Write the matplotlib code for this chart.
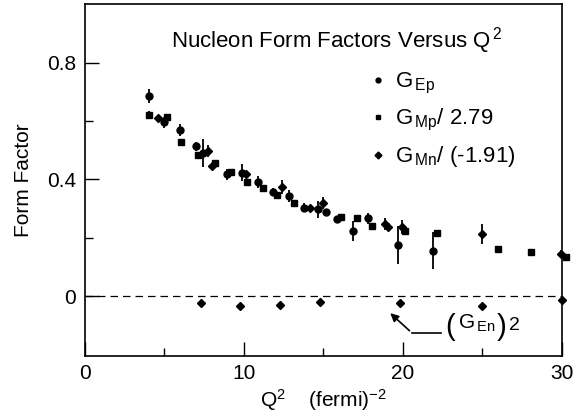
import numpy as np
import matplotlib
matplotlib.use("Agg")
import matplotlib.pyplot as plt
from matplotlib.lines import Line2D

plt.rcParams['font.family'] = ['Liberation Sans', 'DejaVu Sans']
plt.rcParams['mathtext.fontset'] = 'custom'
plt.rcParams['mathtext.rm'] = 'Liberation Sans'
plt.rcParams['mathtext.it'] = 'Liberation Sans:italic'

# G_Ep (circles)
gep_q2 = [4.05, 5.0, 6.0, 6.98, 7.46, 8.93, 9.91, 10.92, 11.86, 12.87, 13.81,
          14.65, 15.17, 15.88, 16.85, 17.83, 19.67, 21.87]
gep_val = [0.686, 0.595, 0.570, 0.513, 0.491, 0.417, 0.423, 0.392, 0.358, 0.343,
           0.303, 0.298, 0.289, 0.264, 0.224, 0.266, 0.175, 0.156]
gep_err = [0.023, 0.02, 0.02, 0.015, 0.048, 0.02, 0.03, 0.02, 0.012, 0.022,
           0.015, 0.029, 0.01, 0.01, 0.034, 0.018, 0.065, 0.063]

# G_Mp / 2.79 (squares)
gmp_q2 = [4.05, 5.2, 6.06, 7.15, 8.2, 9.18, 10.19, 11.23, 12.11, 13.16, 16.09,
          17.1, 18.04, 20.13, 22.12, 26.0, 28.03, 30.25]
gmp_val = [0.621, 0.613, 0.527, 0.485, 0.457, 0.426, 0.391, 0.371, 0.345, 0.320,
           0.272, 0.266, 0.241, 0.224, 0.215, 0.162, 0.152, 0.133]
gmp_err = [0.012, 0.01, 0.012, 0.01, 0.0, 0.0, 0.0, 0.0, 0.0, 0.0, 0.0,
           0.0, 0.0, 0.0, 0.0, 0.0, 0.0, 0.0]

# G_Mn / (-1.91) (diamonds)
gmn_q2 = [4.6, 7.74, 7.99, 10.13, 12.39, 14.16, 14.96, 18.88, 19.08, 19.92, 24.95, 29.93]
gmn_val = [0.610, 0.496, 0.445, 0.417, 0.374, 0.303, 0.320, 0.247, 0.238, 0.237, 0.213, 0.144]
gmn_err = [0.0, 0.02, 0.0, 0.0, 0.025, 0.0, 0.02, 0.022, 0.0, 0.025, 0.034, 0.015]

# (G_En)^2 (diamonds near zero)
gen_q2 = [7.3, 9.77, 12.28, 14.77, 19.82, 24.95, 29.97]
gen_val = [-0.023, -0.034, -0.032, -0.020, -0.022, -0.033, -0.012]
gen_err = [0.01, 0.0, 0.0, 0.006, 0.0, 0.01, 0.01]

fig = plt.figure(figsize=(5.8, 4.17), dpi=100)
ax = fig.add_axes([0.1457, 0.1463, 0.8233, 0.8437])

ax.axhline(0, color='black', lw=0.9, ls=(0, (6, 4)), zorder=1)

ebkw = dict(color='black', ecolor='black', elinewidth=1.3, capsize=0, ls='none', clip_on=False)
ax.errorbar(gep_q2, gep_val, yerr=gep_err, marker='o', ms=5, **ebkw)
ax.errorbar(gmp_q2, gmp_val, yerr=gmp_err, marker='s', ms=4.5, **ebkw)
ax.errorbar(gmn_q2, gmn_val, yerr=gmn_err, marker='D', ms=4.5, **ebkw)
ax.errorbar(gen_q2, gen_val, yerr=gen_err, marker='D', ms=4.5, **ebkw)

ax.set_xlim(0, 30)
ax.set_ylim(-0.205, 1.0)
ax.set_xticks([0, 10, 20, 30])
ax.set_xticks([5, 15, 25], minor=True)
ax.set_yticks([0, 0.4, 0.8])
ax.set_yticklabels(['0', '0.4', '0.8'])
ax.set_yticks([0.2, 0.6], minor=True)
ax.tick_params(which='major', direction='in', length=10, width=1, labelsize=15, pad=6)
ax.tick_params(which='minor', direction='in', length=5.5, width=1)
for s in ax.spines.values():
    s.set_linewidth(1.2)

ax.set_xlabel(r'Q$^2$    (fermi)$^{-2}$', fontsize=15, labelpad=3)
ax.set_ylabel('Form Factor', fontsize=15, labelpad=10)

ax.text(0.527, 0.878, r'Nucleon Form Factors Versus Q$^{\,2}$', transform=ax.transAxes,
        ha='center', va='baseline', fontsize=16)

handles = [Line2D([], [], color='black', marker='o', ms=3.5, ls='none'),
           Line2D([], [], color='black', marker='s', ms=3.5, ls='none'),
           Line2D([], [], color='black', marker='D', ms=3.5, ls='none')]
labels = [r'G$_{\,\mathrm{Ep}}$', r'G$_{\,\mathrm{Mp}}$/ 2.79', r'G$_{\,\mathrm{Mn}}$/ (-1.91)']
ax.legend(handles, labels, loc='upper left', bbox_to_anchor=(0.60, 0.81), frameon=False,
          fontsize=16, handlelength=0.6, handletextpad=0.5, labelspacing=0.5,
          borderpad=0, borderaxespad=0)

# (G_En)^2 label with tall parentheses
ax.text(22.64, -0.107, '(', fontsize=21, ha='left', va='center')
ax.text(23.45, -0.110, r'G$_{\,\mathrm{En}}$', fontsize=15, ha='left', va='baseline')
ax.text(25.9, -0.107, ')', fontsize=21, ha='left', va='center')
ax.text(26.7, -0.100, '2', fontsize=14, ha='left', va='center')
ax.plot([22.4, 20.55], [-0.125, -0.125], color='black', lw=1.2)
ax.annotate('', xy=(19.08, -0.052), xytext=(20.55, -0.125),
            arrowprops=dict(arrowstyle='-|>', color='black', lw=1.2, mutation_scale=12))

fig.savefig('out.png', dpi=100)
